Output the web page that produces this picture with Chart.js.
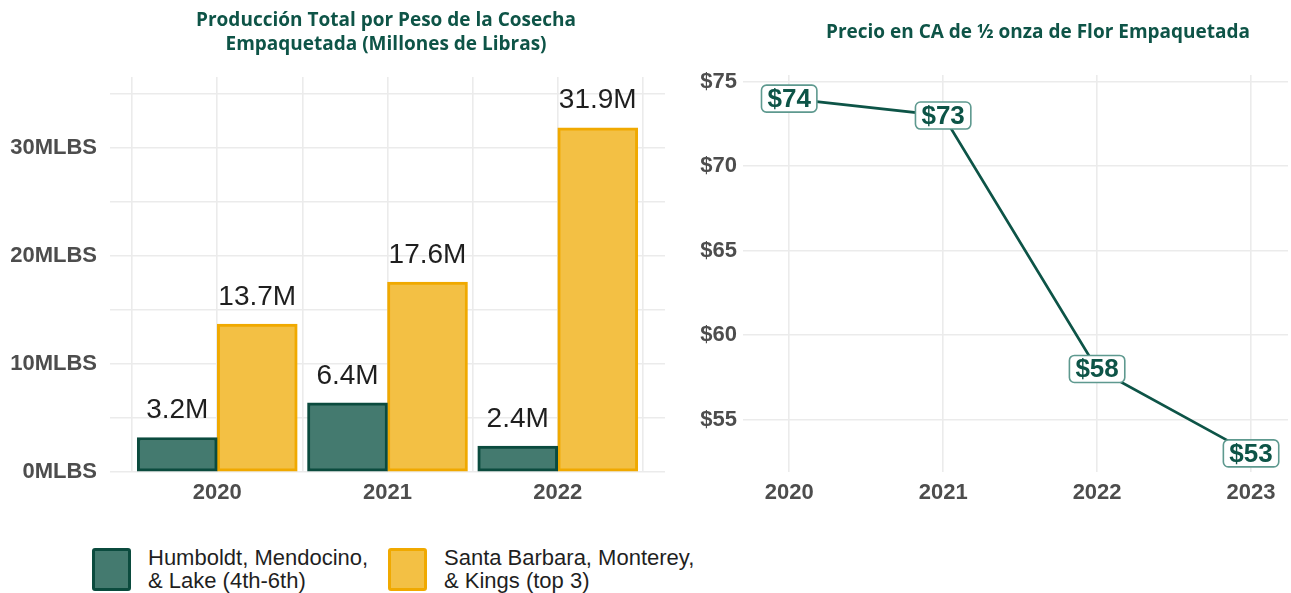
<!DOCTYPE html>
<html>
<head>
<meta charset="utf-8">
<title>Producción y precio de flor empaquetada</title>
<script src="https://cdn.jsdelivr.net/npm/chart.js@4.4.1/dist/chart.umd.min.js"></script>
<style>
  html, body { margin: 0; padding: 0; background: #ffffff; }
  body { position: relative; width: 1291px; height: 593px; overflow: hidden; }
  #prodChart { position: absolute; left: 0; top: 0; }
  #priceChart { position: absolute; left: 680px; top: 0; }
  .legend-item { position: absolute; top: 546px; display: flex; align-items: flex-start;
    font-family: "Liberation Sans", Arial, sans-serif; font-size: 22px; line-height: 23px; color: #1f1f1f; }
  .swatch { box-sizing: border-box; width: 39px; height: 43px; margin-top: 2px; border: 3px solid; border-radius: 3px; }
  .legend-text { margin-left: 17px; white-space: nowrap; }
</style>
</head>
<body>
<canvas id="prodChart" width="680" height="520"></canvas>
<canvas id="priceChart" width="611" height="520"></canvas>
<div id="legend"></div>

<script>
// ---- Producción por peso (millones de libras) ----
const harvestYears = [2020, 2021, 2022];
const northCounties = [3.2, 6.4, 2.4];     // Humboldt, Mendocino & Lake
const topCounties = [13.7, 17.6, 31.9];    // Santa Barbara, Monterey & Kings
const seriesNames = [
  ['Humboldt, Mendocino,', '& Lake (4th-6th)'],
  ['Santa Barbara, Monterey,', '& Kings (top 3)']
];
const prodTitle = ['Producción Total por Peso de la Cosecha', 'Empaquetada (Millones de Libras)'];
const prodTickSuffix = 'MLBS';

// ---- Precio de 1/2 onza ----
const priceYears = [2020, 2021, 2022, 2023];
const prices = [74, 73, 58, 53];
const priceTitle = ['Precio en CA de ½ onza de Flor Empaquetada'];

// ---- Estilos ----
const GREEN_FILL = '#447a6f';
const GREEN_EDGE = '#0b4b3e';
const GOLD_FILL = '#f3c044';
const GOLD_EDGE = '#f0a900';
const TITLE_COLOR = '#0e5447';
const AXIS_COLOR = '#4d4d4d';
const GRID_COLOR = '#ebebeb';
const AXIS_FONT = { family: '"Liberation Sans", Arial, sans-serif', size: 22, weight: 'bold' };

// Title drawn centred over a given x position, above the plot area
const headerPlugin = {
  id: 'header',
  afterDraw(chart, args, opts) {
    const ctx = chart.ctx;
    ctx.save();
    ctx.font = '700 19px "Open Sans", "Noto Sans", sans-serif';
    ctx.fillStyle = TITLE_COLOR;
    ctx.textAlign = 'center';
    ctx.textBaseline = 'middle';
    opts.lines.forEach((line, i) => ctx.fillText(line, opts.x, opts.y + i * opts.lineHeight));
    ctx.restore();
  }
};

// Value labels above each bar
const barLabelPlugin = {
  id: 'barLabels',
  afterDatasetsDraw(chart) {
    const ctx = chart.ctx;
    ctx.save();
    ctx.font = '28px "Liberation Sans", Arial, sans-serif';
    ctx.fillStyle = '#1f1f1f';
    ctx.textAlign = 'center';
    ctx.textBaseline = 'middle';
    chart.data.datasets.forEach((ds, di) => {
      chart.getDatasetMeta(di).data.forEach((bar, i) => {
        ctx.fillText(ds.data[i].y.toFixed(1) + 'M', bar.x, bar.y - 27);
      });
    });
    ctx.restore();
  }
};

// Boxed price labels sitting on each point of the line
function roundedRect(ctx, x, y, w, h, r) {
  ctx.beginPath();
  ctx.moveTo(x + r, y);
  ctx.lineTo(x + w - r, y);
  ctx.arcTo(x + w, y, x + w, y + r, r);
  ctx.lineTo(x + w, y + h - r);
  ctx.arcTo(x + w, y + h, x + w - r, y + h, r);
  ctx.lineTo(x + r, y + h);
  ctx.arcTo(x, y + h, x, y + h - r, r);
  ctx.lineTo(x, y + r);
  ctx.arcTo(x, y, x + r, y, r);
  ctx.closePath();
}
const pointLabelPlugin = {
  id: 'pointLabels',
  afterDatasetsDraw(chart) {
    const ctx = chart.ctx;
    const ds = chart.data.datasets[0];
    ctx.save();
    ctx.font = 'bold 26px "Liberation Sans", Arial, sans-serif';
    ctx.textAlign = 'center';
    ctx.textBaseline = 'middle';
    chart.getDatasetMeta(0).data.forEach((pt, i) => {
      const txt = '$' + ds.data[i].y;
      const w = ctx.measureText(txt).width + 12;
      const h = 27;
      roundedRect(ctx, pt.x - w / 2, pt.y - h / 2, w, h, 5);
      ctx.fillStyle = '#ffffff';
      ctx.fill();
      ctx.lineWidth = 1.6;
      ctx.strokeStyle = '#5e998f';
      ctx.stroke();
      ctx.fillStyle = '#0d5447';
      ctx.fillText(txt, pt.x, pt.y + 1);
    });
    ctx.restore();
  }
};

// ---- Bar chart ----
new Chart(document.getElementById('prodChart'), {
  type: 'bar',
  data: {
    datasets: [
      {
        label: seriesNames[0].join(' '),
        data: harvestYears.map((yr, i) => ({ x: yr, y: northCounties[i] })),
        backgroundColor: GREEN_FILL,
        borderColor: GREEN_EDGE,
        borderWidth: 3,
        borderSkipped: false,
        barThickness: 80
      },
      {
        label: seriesNames[1].join(' '),
        data: harvestYears.map((yr, i) => ({ x: yr, y: topCounties[i] })),
        backgroundColor: GOLD_FILL,
        borderColor: GOLD_EDGE,
        borderWidth: 3,
        borderSkipped: false,
        barThickness: 80
      }
    ]
  },
  options: {
    responsive: false,
    animation: false,
    layout: { padding: { left: 0, right: 15, top: 77, bottom: 0 } },
    plugins: {
      legend: { display: false },
      tooltip: { enabled: false },
      header: { lines: prodTitle, x: 386, y: 21, lineHeight: 24 }
    },
    scales: {
      x: {
        type: 'linear',
        offset: false,
        min: 2019.37,
        max: 2022.63,
        border: { display: false },
        grid: { offset: false, color: GRID_COLOR, lineWidth: 1.6, drawTicks: false },
        ticks: {
          stepSize: 0.5,
          includeBounds: false,
          autoSkip: false,
          padding: 8,
          color: AXIS_COLOR,
          font: AXIS_FONT,
          callback: v => Number.isInteger(v) ? String(v) : ''
        },
        afterFit: s => { s.height = 48; }
      },
      y: {
        min: 0,
        max: 36.6,
        border: { display: false },
        grid: { color: GRID_COLOR, lineWidth: 1.6, drawTicks: false },
        ticks: {
          stepSize: 5,
          includeBounds: false,
          padding: 13,
          color: AXIS_COLOR,
          font: AXIS_FONT,
          callback: v => (v % 10 === 0 ? v + prodTickSuffix : '')
        },
        afterFit: s => { s.width = 110; }
      }
    }
  },
  plugins: [headerPlugin, barLabelPlugin]
});

// ---- Line chart ----
new Chart(document.getElementById('priceChart'), {
  type: 'line',
  data: {
    datasets: [{
      label: priceTitle[0],
      data: priceYears.map((yr, i) => ({ x: yr, y: prices[i] })),
      borderColor: '#0d5447',
      borderWidth: 2.7,
      pointRadius: 0,
      tension: 0,
      fill: false
    }]
  },
  options: {
    responsive: false,
    animation: false,
    layout: { padding: { left: 0, right: 3, top: 75, bottom: 0 } },
    plugins: {
      legend: { display: false },
      tooltip: { enabled: false },
      header: { lines: priceTitle, x: 358, y: 33, lineHeight: 24 }
    },
    scales: {
      x: {
        type: 'linear',
        min: 2019.7,
        max: 2023.24,
        border: { display: false },
        grid: { color: GRID_COLOR, lineWidth: 1.6, drawTicks: false },
        ticks: {
          stepSize: 1,
          includeBounds: false,
          autoSkip: false,
          padding: 8,
          color: AXIS_COLOR,
          font: AXIS_FONT,
          callback: v => String(v)
        },
        afterFit: s => { s.height = 48; }
      },
      y: {
        min: 51.9,
        max: 75.4,
        border: { display: false },
        grid: { color: GRID_COLOR, lineWidth: 1.6, drawTicks: false },
        ticks: {
          stepSize: 5,
          includeBounds: false,
          padding: 6,
          color: AXIS_COLOR,
          font: AXIS_FONT,
          callback: v => '$' + v
        },
        afterFit: s => { s.width = 63; }
      }
    }
  },
  plugins: [headerPlugin, pointLabelPlugin]
});

// ---- Legend for the bar chart ----
const legendBox = document.getElementById('legend');
const swatchColors = [[GREEN_FILL, GREEN_EDGE], [GOLD_FILL, GOLD_EDGE]];
const legendLeft = [92, 388];
seriesNames.forEach((lines, i) => {
  const item = document.createElement('div');
  item.className = 'legend-item';
  item.style.left = legendLeft[i] + 'px';
  const sw = document.createElement('div');
  sw.className = 'swatch';
  sw.style.background = swatchColors[i][0];
  sw.style.borderColor = swatchColors[i][1];
  const txt = document.createElement('div');
  txt.className = 'legend-text';
  lines.forEach(l => { const d = document.createElement('div'); d.textContent = l; txt.appendChild(d); });
  item.appendChild(sw);
  item.appendChild(txt);
  legendBox.appendChild(item);
});
</script>
</body>
</html>
